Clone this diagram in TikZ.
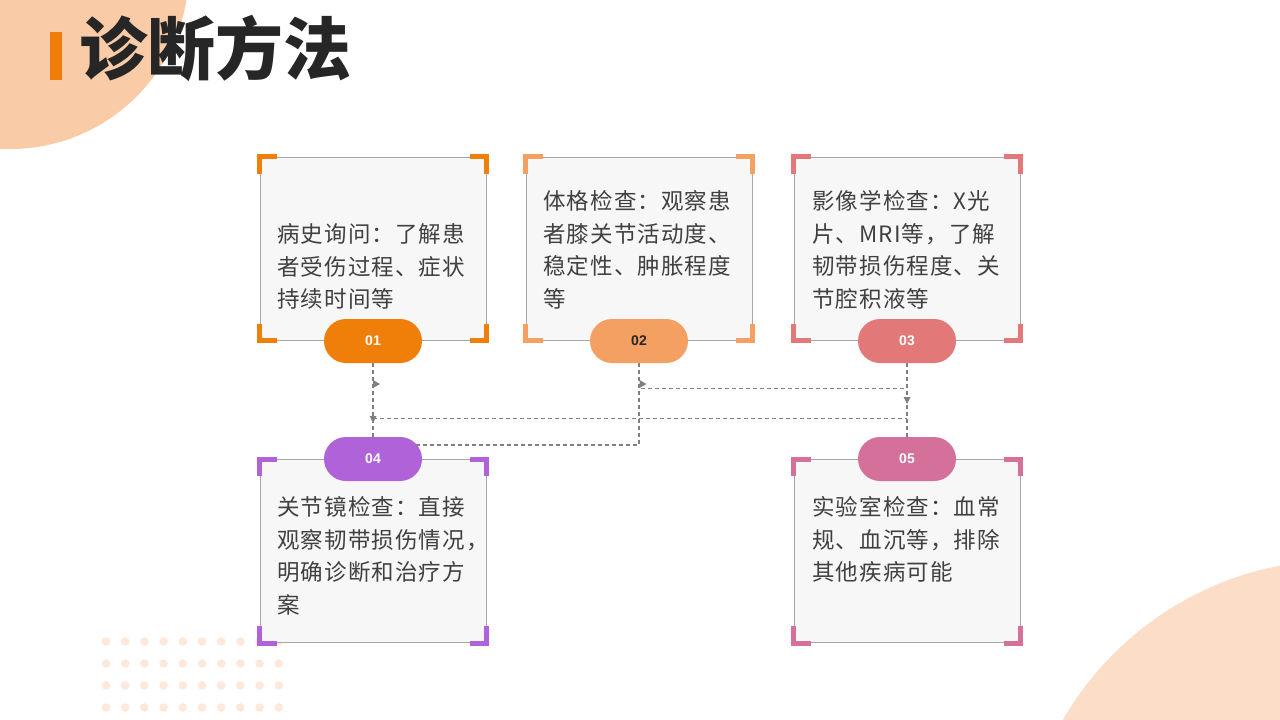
\documentclass[tikz,border=0pt]{standalone}
\usepackage{fontspec}
\setmainfont{Liberation Sans}
\newfontfamily\cjk[LetterSpace=5]{Noto Sans CJK SC}
\newfontfamily\cjktitle{Noto Sans CJK SC}
\usetikzlibrary{calc,backgrounds}

\definecolor{cOrange}{RGB}{240,127,10}
\definecolor{cApricot}{RGB}{244,160,98}
\definecolor{cSalmon}{RGB}{227,120,120}
\definecolor{cPurple}{RGB}{176,98,217}
\definecolor{cPink}{RGB}{212,112,154}
\definecolor{cPeach}{RGB}{249,203,166}
\definecolor{cPeachLight}{RGB}{251,221,200}
\definecolor{cDot}{RGB}{253,232,220}
\definecolor{cFill}{RGB}{247,247,247}
\definecolor{cEdge}{RGB}{166,166,166}
\definecolor{cLine}{RGB}{128,128,128}
\definecolor{cText}{RGB}{64,64,64}
\definecolor{cTitle}{RGB}{38,38,38}

\tikzset{
  card/.style={draw=cEdge, fill=cFill, line width=1pt, minimum width=226pt, minimum height=183pt, inner sep=0pt},
  pill/.style={rounded corners=22pt, minimum width=98pt, minimum height=44pt, inner sep=0pt, text=white, font=\bfseries\fontsize{14}{14}\selectfont},
  desc/.style={align=left, inner sep=0pt, text=cText, font=\cjk\fontsize{22.5}{32.5}\selectfont},
  cornermark/.style={line width=5pt},
  link/.style={draw=cLine, line width=1.1pt, dash pattern=on 4pt off 3pt},
  tipmark/.style={fill=cLine},
}

% L-shaped marks on the four corners of a card
\newcommand{\cornermarks}[2]{%
  \draw[cornermark, #2] ($(#1.north west)+(17,0)$) -- (#1.north west) -- ($(#1.north west)+(0,17)$);
  \draw[cornermark, #2] ($(#1.north east)+(-17,0)$) -- (#1.north east) -- ($(#1.north east)+(0,17)$);
  \draw[cornermark, #2] ($(#1.south west)+(17,0)$) -- (#1.south west) -- ($(#1.south west)+(0,-17)$);
  \draw[cornermark, #2] ($(#1.south east)+(-17,0)$) -- (#1.south east) -- ($(#1.south east)+(0,-17)$);
}

\begin{document}
\begin{tikzpicture}[x=1pt, y=-1pt]
  \useasboundingbox (0,0) rectangle (1280,720);

  % background shapes
  \begin{scope}
    \clip (0,0) rectangle (1280,720);
    \fill[cPeach] (10,-30) circle[radius=179];
    \fill[cPeachLight] (1340,880) circle[radius=320];
  \end{scope}
  \foreach \r in {0,...,3}
    \foreach \c in {0,...,9}
      \fill[cDot] ({106+19.2*\c},{641.5+22*\r}) circle[radius=4.3];

  % title
  \fill[cOrange] (50,32) rectangle (62,80);
  \node[anchor=west, inner sep=0pt, text=cTitle, font=\cjktitle\bfseries\fontsize{68}{68}\selectfont] (title) at (79,48) {诊断方法};

  % cards
  \node[card] (b1) at (373,248.5) {};
  \node[card] (b2) at (639,248.5) {};
  \node[card] (b3) at (907,248.5) {};
  \node[card] (b4) at (373,551) {};
  \node[card] (b5) at (907,551) {};

  \cornermarks{b1}{cOrange}
  \cornermarks{b2}{cApricot}
  \cornermarks{b3}{cSalmon}
  \cornermarks{b4}{cPurple}
  \cornermarks{b5}{cPink}

  \node[desc, anchor=north west] (t1) at (277,223.5) {病史询问：了解患\\者受伤过程、症状\\持续时间等};
  \node[desc, anchor=north west] (t2) at (543,190.5) {体格检查：观察患\\者膝关节活动度、\\稳定性、肿胀程度\\等};
  \node[desc, anchor=north west] (t3) at (812,190.5) {影像学检查：X光\\片、MRI等，了解\\韧带损伤程度、关\\节腔积液等};
  \node[desc, anchor=north west] (t4) at (277,496.5) {关节镜检查：直接\\观察韧带损伤情况，\\明确诊断和治疗方\\案};
  \node[desc, anchor=north west] (t5) at (812,496.5) {实验室检查：血常\\规、血沉等，排除\\其他疾病可能};

  % number pills
  \node[pill, fill=cOrange] (p1) at (373,341) {01};
  \node[pill, fill=cApricot, text=cTitle] (p2) at (639,341) {02};
  \node[pill, fill=cSalmon] (p3) at (907,341) {03};
  \node[pill, fill=cPurple] (p4) at (373,459) {04};
  \node[pill, fill=cPink] (p5) at (907,459) {05};

  % connectors, kept under the pills
  \begin{scope}[on background layer]
    \draw[link] (p1.south) -- (p4.north);
    \draw[link] (p2.south) |- ($(p4.center)+(0,-14)$);
    \draw[link] (p3.south) |- ($(p2.south)+(0,25)$);
    \draw[link] ($(p1.south)+(0,55)$) -- ($(p3.south)+(0,55)$);
    \draw[link] (p3.south) -- (p5.north);
  \end{scope}
  \fill[tipmark] (373,380) -- (380,384) -- (373,388) -- cycle;
  \fill[tipmark] (639.5,380) -- (646.5,384) -- (639.5,388) -- cycle;
  \fill[tipmark] (369.5,416) -- (373,423) -- (376.5,416) -- cycle;
  \fill[tipmark] (903.5,397) -- (907,404) -- (910.5,397) -- cycle;
\end{tikzpicture}
\end{document}
